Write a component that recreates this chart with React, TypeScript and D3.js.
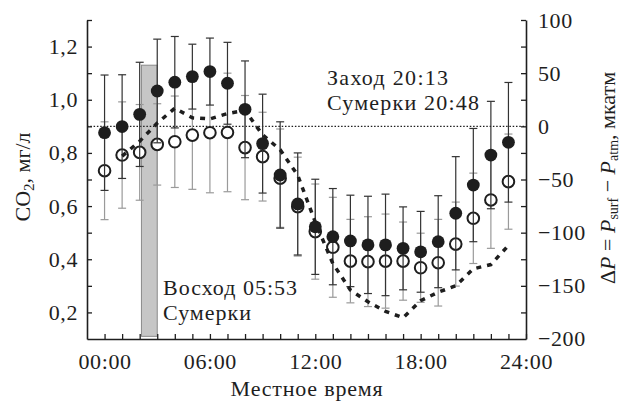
import React, { useEffect, useRef } from "react";
import * as d3 from "d3";

// hours of the day (local time)
const hours = [0, 1, 2, 3, 4, 5, 6, 7, 8, 9, 10, 11, 12, 13, 14, 15, 16, 17, 18, 19, 20, 21, 22, 23];

// CO2, filled circles (black error bars)
const darkCO2 = [0.876, 0.899, 0.945, 1.033, 1.066, 1.087, 1.106, 1.062, 0.964, 0.835, 0.717, 0.608, 0.522, 0.485, 0.469, 0.454, 0.454, 0.441, 0.428, 0.466, 0.573, 0.679, 0.792, 0.84];
const darkErr = [0.217, 0.195, 0.196, 0.195, 0.172, 0.122, 0.126, 0.154, 0.182, 0.186, 0.2, 0.192, 0.179, 0.181, 0.172, 0.183, 0.191, 0.156, 0.152, 0.173, 0.213, 0.213, 0.202, 0.225];

// CO2, open circles (gray error bars)
const lightCO2 = [0.733, 0.792, 0.802, 0.832, 0.842, 0.867, 0.876, 0.877, 0.82, 0.786, 0.705, 0.598, 0.504, 0.445, 0.393, 0.391, 0.393, 0.393, 0.368, 0.387, 0.457, 0.554, 0.623, 0.692];
const lightErr = [0.184, 0.2, 0.18, 0.153, 0.172, 0.204, 0.226, 0.223, 0.196, 0.167, 0.185, 0.186, 0.179, 0.188, 0.157, 0.169, 0.177, 0.147, 0.13, 0.163, 0.158, 0.17, 0.182, 0.179];

// delta P (right axis), dashed line
const dpHours = [1, 2, 3, 4, 5, 6, 7, 8, 9, 10, 11, 12, 13, 14, 15, 16, 17, 18, 19, 20, 21, 22, 23];
const dpValues = [-28, -14, 3, 17, 8, 7, 12, 15, -8, -22, -46, -90, -129, -154, -165, -174, -180, -164, -156, -150, -134, -130, -112];

// morning twilight band
const twilightFrom = 2.1;
const twilightTo = 3.0;
const twilightLow = 0.11;
const twilightHigh = 1.13;

const leftTicks = [0.2, 0.4, 0.6, 0.8, 1.0, 1.2];
const leftTickLabels = ["0,2", "0,4", "0,6", "0,8", "1,0", "1,2"];
const rightTicks = [-200, -150, -100, -50, 0, 50, 100];
const rightTickLabels = ["\u2212200", "\u2212150", "\u2212100", "\u221250", "0", "50", "100"];
const timeTicks = [0, 6, 12, 18, 24];
const timeTickLabels = ["00:00", "06:00", "12:00", "18:00", "24:00"];

const FONT = "'Liberation Serif', 'Times New Roman', serif";
const INK = "#1e1e1e";

export default function App() {
  const ref = useRef<SVGSVGElement>(null);

  useEffect(() => {
    const svg = d3.select(ref.current);
    svg.selectAll("*").remove();

    const x = d3.scaleLinear().domain([-1, 24]).range([87, 526]);
    const yL = d3.scaleLinear().domain([0.1, 1.3]).range([339, 20]);
    const yR = d3.scaleLinear().domain([-200, 100]).range([339, 20]);

    // twilight bar
    svg.append("rect")
      .attr("x", x(twilightFrom))
      .attr("y", yL(twilightHigh))
      .attr("width", x(twilightTo) - x(twilightFrom))
      .attr("height", yL(twilightLow) - yL(twilightHigh))
      .attr("fill", "#c6c6c6")
      .attr("stroke", "#8a8a8a")
      .attr("stroke-width", 1);

    // zero line of delta P
    svg.append("line")
      .attr("x1", x(-1)).attr("x2", x(24))
      .attr("y1", yR(0)).attr("y2", yR(0))
      .attr("stroke", INK)
      .attr("stroke-width", 1.2)
      .attr("stroke-dasharray", "1.5,1.8");

    const errorBars = (vals: number[], errs: number[], color: string, width: number) => {
      const g = svg.append("g").attr("stroke", color).attr("stroke-width", width);
      hours.forEach((h, i) => {
        const cx = x(h);
        const top = yL(vals[i] + errs[i]);
        const bot = yL(vals[i] - errs[i]);
        g.append("line").attr("x1", cx).attr("x2", cx).attr("y1", top).attr("y2", bot);
        g.append("line").attr("x1", cx - 4).attr("x2", cx + 4).attr("y1", top).attr("y2", top);
        g.append("line").attr("x1", cx - 4).attr("x2", cx + 4).attr("y1", bot).attr("y2", bot);
      });
    };

    errorBars(lightCO2, lightErr, "#9a9a9a", 1.2);

    // open circles
    svg.append("g").selectAll("circle")
      .data(hours)
      .enter().append("circle")
      .attr("cx", d => x(d))
      .attr("cy", (d, i) => yL(lightCO2[i]))
      .attr("r", 5.8)
      .attr("fill", "#fff")
      .attr("stroke", INK)
      .attr("stroke-width", 2);

    errorBars(darkCO2, darkErr, "#333", 1.2);

    // delta P dashed line
    const line = d3.line<number>()
      .x(d => x(d))
      .y((d, i) => yR(dpValues[i]));
    svg.append("path")
      .datum(dpHours)
      .attr("d", line)
      .attr("fill", "none")
      .attr("stroke", INK)
      .attr("stroke-width", 3.5)
      .attr("stroke-dasharray", "5,6");

    // filled circles
    svg.append("g").selectAll("circle")
      .data(hours)
      .enter().append("circle")
      .attr("cx", d => x(d))
      .attr("cy", (d, i) => yL(darkCO2[i]))
      .attr("r", 6.4)
      .attr("fill", INK);

    // axes
    const styleAxis = (g: any) => {
      g.selectAll("text")
        .style("font-family", FONT)
        .style("font-size", "22px")
        .style("letter-spacing", "0.6px")
        .attr("fill", INK);
      g.select(".domain").attr("stroke", INK).attr("stroke-width", 1.6);
      g.selectAll(".tick line").attr("stroke", INK).attr("stroke-width", 1.3);
    };

    const leftMinor = yL.ticks(12).filter(v => v > 0.15);
    const gl = svg.append("g")
      .attr("transform", `translate(${x(-1)}, 0)`)
      .call(d3.axisLeft(yL)
        .tickValues(leftMinor)
        .tickSize(-5)
        .tickSizeOuter(0)
        .tickPadding(9)
        .tickFormat((v: any) => {
          const k = leftTicks.findIndex(t => Math.abs(t - v) < 1e-6);
          return k >= 0 ? leftTickLabels[k] : "";
        }));
    styleAxis(gl);

    const rightMinor = d3.range(-175, 101, 25);
    const gr = svg.append("g")
      .attr("transform", `translate(${x(24)}, 0)`)
      .call(d3.axisRight(yR)
        .tickValues(rightMinor)
        .tickSize(-5)
        .tickSizeOuter(0)
        .tickPadding(12)
        .tickFormat((v: any) => {
          const k = rightTicks.indexOf(v);
          return k >= 0 ? rightTickLabels[k] : "";
        }));
    // -200 label sits at the corner
    gr.append("text")
      .attr("x", 12).attr("y", yR(-200)).attr("dy", "0.32em")
      .text(rightTickLabels[0]);
    styleAxis(gr);

    const gb = svg.append("g")
      .attr("transform", `translate(0, ${yL(0.1)})`)
      .call(d3.axisBottom(x)
        .tickValues(d3.range(0, 25))
        .tickSize(-5)
        .tickSizeOuter(0)
        .tickPadding(14)
        .tickFormat((v: any) => {
          const k = timeTicks.indexOf(v);
          return k >= 0 ? timeTickLabels[k] : "";
        }));
    styleAxis(gb);

    const txt = (xx: number, yy: number, s: string, ls = 1.1) =>
      svg.append("text")
        .attr("x", xx).attr("y", yy)
        .style("font-family", FONT).style("font-size", "22px")
        .style("letter-spacing", `${ls}px`)
        .attr("fill", INK)
        .text(s);

    txt(327, 85, "Заход 20:13", 1.3);
    txt(327, 110, "Сумерки 20:48", 1.2);
    txt(163, 295, "Восход 05:53", 1.0);
    txt(163, 320, "Сумерки", 1.0);

    txt(307, 396, "Местное время", 0.8).attr("text-anchor", "middle");

    // left title
    const lt = svg.append("text")
      .attr("transform", "translate(30, 177) rotate(-90)")
      .attr("text-anchor", "middle")
      .style("font-family", FONT).style("font-size", "22px")
      .attr("fill", INK);
    lt.append("tspan").text("CO");
    lt.append("tspan").attr("font-size", "15px").attr("dy", 4).text("2");
    lt.append("tspan").attr("dy", -4).text(", мг/л");

    // right title
    const rt = svg.append("text")
      .attr("transform", "translate(615, 178) rotate(-90)")
      .attr("text-anchor", "middle")
      .style("font-family", FONT).style("font-size", "22px")
      .attr("fill", INK);
    rt.append("tspan").text("Δ");
    rt.append("tspan").attr("font-style", "italic").text("P");
    rt.append("tspan").text(" = ");
    rt.append("tspan").attr("font-style", "italic").text("P");
    rt.append("tspan").attr("font-size", "14px").attr("dy", 3).text("surf");
    rt.append("tspan").attr("dy", -3).text(" \u2212 ");
    rt.append("tspan").attr("font-style", "italic").text("P");
    rt.append("tspan").attr("font-size", "14px").attr("dy", 3).text("atm");
    rt.append("tspan").attr("dy", -3).text(", мкатм");
  }, []);

  return (
    <svg
      ref={ref}
      width={621}
      height={403}
      style={{ position: "absolute", left: 0, top: 0, background: "#fff" }}
    />
  );
}
